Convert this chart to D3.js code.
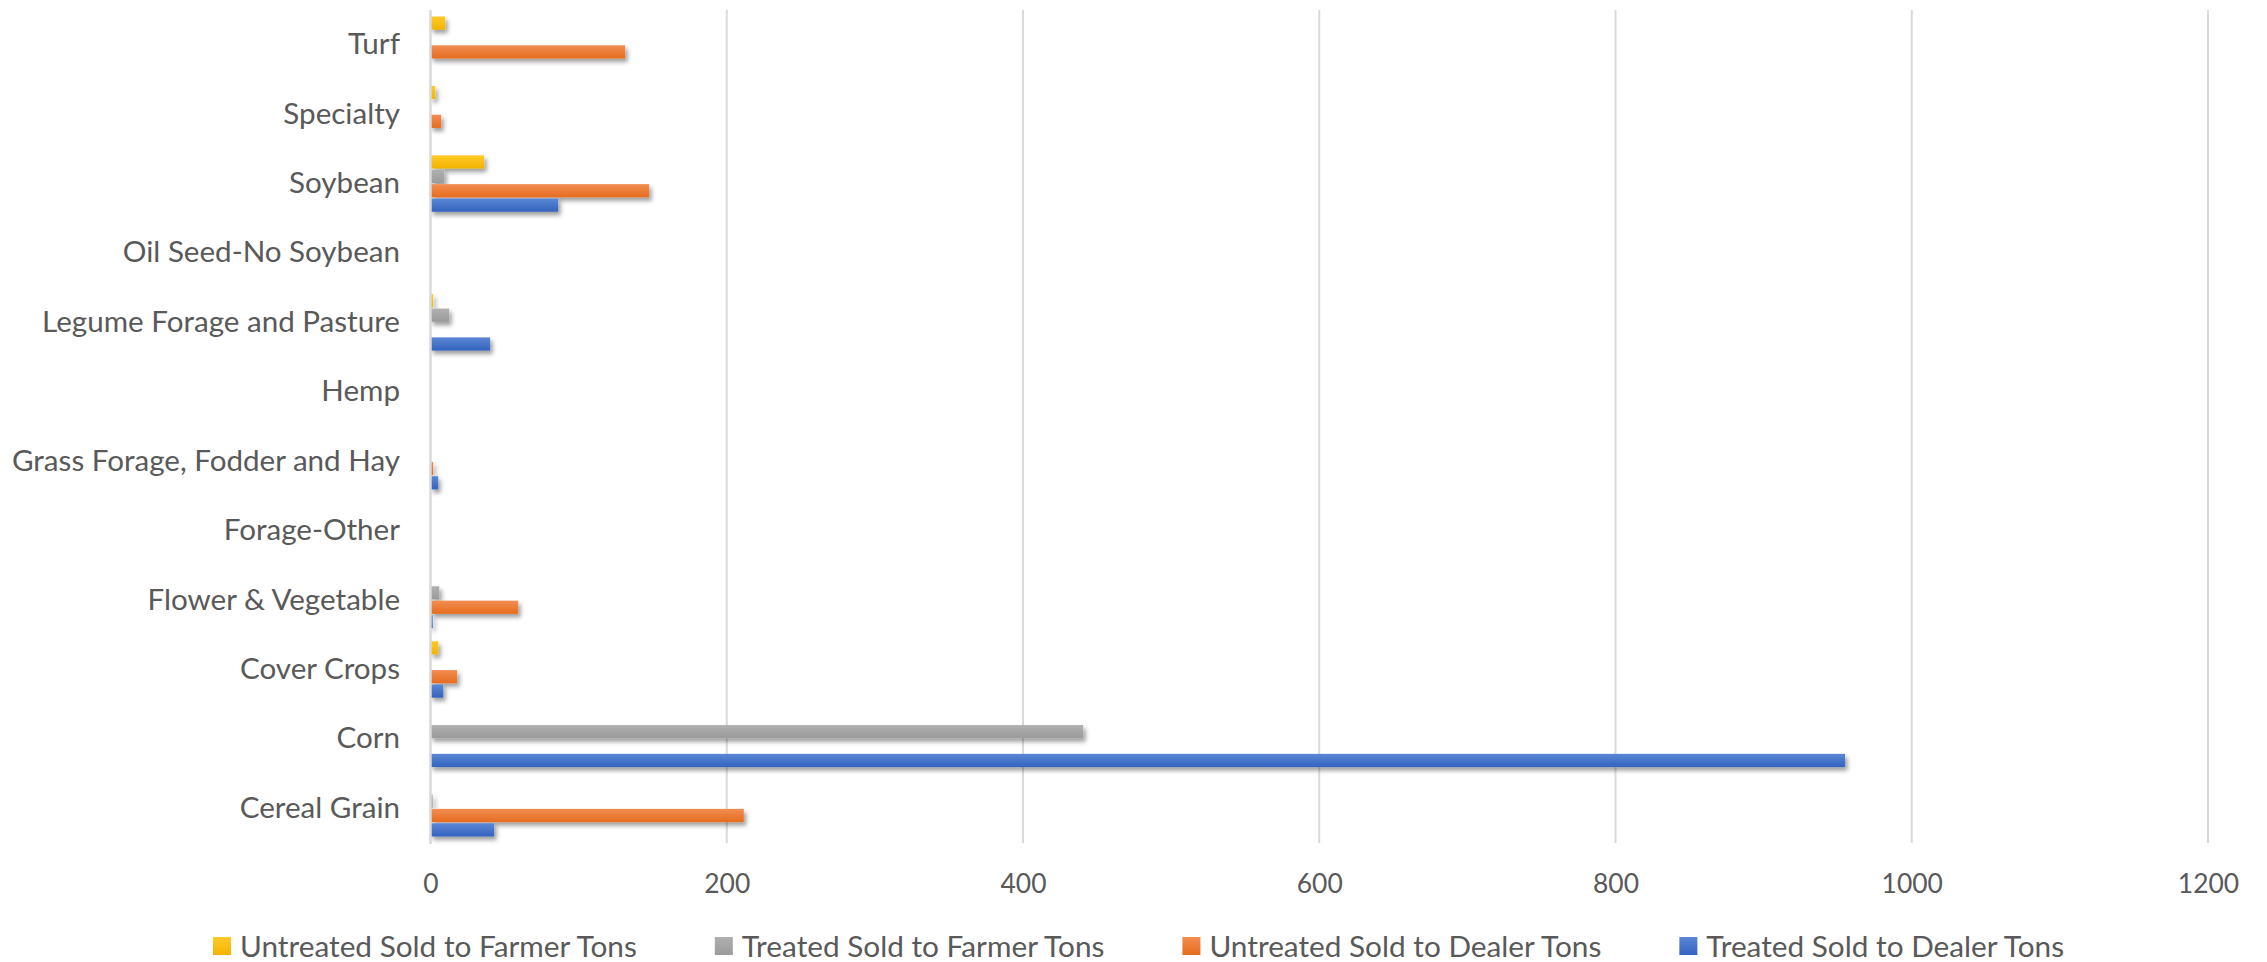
<!DOCTYPE html>
<html>
<head>
<meta charset="utf-8">
<script src="https://cdn.jsdelivr.net/npm/d3@7"></script>
<style>
  html, body { margin: 0; padding: 0; background: #ffffff; }
  svg { display: block; }
  text { font-family: Lato, "Open Sans", sans-serif; fill: #595959; }
</style>
</head>
<body>
<svg id="chart" width="2267" height="962"></svg>
<script>
// ---- Data (categories listed bottom to top, as in the chart) ----
const categories = [
  "Cereal Grain", "Corn", "Cover Crops", "Flower & Vegetable", "Forage-Other",
  "Grass Forage, Fodder and Hay", "Hemp", "Legume Forage and Pasture",
  "Oil Seed-No Soybean", "Soybean", "Specialty", "Turf"
];
const treatedDealer   = [43,   955,   8.6, 1.5, 0, 5.2, 0, 40.3, 0,  86.2, 0,   0];
const untreatedDealer = [211.5, 0,   18,  59.2, 0, 1.8, 0, 0,    0, 147.6, 7.2, 131.4];
const treatedFarmer   = [1.5,  440.6, 0,   5.9, 0, 0,   0, 12.6, 0,   9.2, 0,   0];
const untreatedFarmer = [0,    0,     5.2, 0,   0, 0,   0, 1.8,  0,  36.2, 3.2, 9.9];
const seriesNames = [
  "Untreated Sold to Farmer Tons", "Treated Sold to Farmer Tons",
  "Untreated Sold to Dealer Tons", "Treated Sold to Dealer Tons"
];
const xTicks = [0, 200, 400, 600, 800, 1000, 1200];

const seriesValues = [untreatedFarmer, treatedFarmer, untreatedDealer, treatedDealer];
const seriesColors = [
  ["#FFCA28", "#F2B400"],
  ["#B0B0B0", "#9A9A9A"],
  ["#F28D52", "#E66C1E"],
  ["#5B87D4", "#3363BE"]
];

const svg = d3.select("#chart");
const W = 2267, H = 962;
const plot = { left: 430.5, right: 2208, top: 10, bottom: 843 };

const defs = svg.append("defs");
seriesColors.forEach((c, i) => {
  const g = defs.append("linearGradient").attr("id", "grad" + i)
    .attr("x1", 0).attr("y1", 0).attr("x2", 0).attr("y2", 1);
  g.append("stop").attr("offset", "0%").attr("stop-color", c[0]);
  g.append("stop").attr("offset", "100%").attr("stop-color", c[1]);
});
const f = defs.append("filter").attr("id", "shadow")
  .attr("x", "-5%").attr("y", "-50%").attr("width", "120%").attr("height", "250%");
f.append("feDropShadow").attr("dx", 2.5).attr("dy", 3.5).attr("stdDeviation", 2.2)
  .attr("flood-color", "#000").attr("flood-opacity", 0.38);

const x = d3.scaleLinear().domain([0, 1200]).range([plot.left, plot.right]);
const y = d3.scaleBand().domain(categories.slice().reverse())
  .range([plot.top, plot.bottom]).paddingInner(0).paddingOuter(0);
const bw = y.bandwidth();
const pad = bw * 0.085;
const ys = d3.scaleBand().domain(seriesNames).range([pad, bw - pad]).padding(0);

// gridlines
const grid = svg.append("g");
grid.selectAll("line").data(xTicks.filter(t => t > 0)).join("line")
  .attr("x1", d => x(d)).attr("x2", d => x(d))
  .attr("y1", plot.top).attr("y2", plot.bottom)
  .attr("stroke", "#D9D9D9").attr("stroke-width", 2);

// bars
const barsG = svg.append("g").attr("filter", "url(#shadow)");
seriesNames.forEach((name, si) => {
  const data = categories.map((c, ci) => ({ c, v: seriesValues[si][ci] })).filter(d => d.v > 0);
  barsG.append("g").selectAll("rect").data(data).join("rect")
    .attr("x", x(0))
    .attr("y", d => y(d.c) + ys(name) + 0.6)
    .attr("width", d => x(d.v) - x(0))
    .attr("height", ys.bandwidth() - 1.2)
    .attr("fill", "url(#grad" + si + ")");
});

// category axis line
svg.append("line").attr("x1", x(0)).attr("x2", x(0))
  .attr("y1", plot.top).attr("y2", plot.bottom + 1)
  .attr("stroke", "#D9D9D9").attr("stroke-width", 2.5);

// Fit font size helpers
function fitSize(sample, target, base) {
  const t = svg.append("text").style("font-size", base + "px").text(sample);
  const w = t.node().getComputedTextLength();
  t.remove();
  return base * target / w;
}
const catSize = fitSize("Legume Forage and Pasture", 358, 30);
const tickSize = fitSize("200", 46, 30);
const legSize = fitSize("Untreated Sold to Farmer Tons", 397, 30);

// y axis labels
const yAxis = d3.axisLeft(y).tickSize(0).tickPadding(0);
const yg = svg.append("g").attr("transform", `translate(400,0)`).call(yAxis);
yg.select(".domain").remove();
yg.selectAll("text").style("font-size", catSize + "px").attr("fill", "#595959")
  .style("font-family", "Lato, sans-serif");

// x axis labels
const xAxis = d3.axisBottom(x).tickValues(xTicks).tickSize(0).tickPadding(0).tickFormat(d3.format("d"));
const xg = svg.append("g").attr("transform", `translate(0,${plot.bottom})`).call(xAxis);
xg.select(".domain").remove();
xg.selectAll("text").style("font-size", tickSize + "px").attr("fill", "#595959")
  .attr("dy", null).attr("y", 50).style("font-family", "Lato, sans-serif");

// legend
const legY = 946;
const sw = 18;
const lg = svg.append("g");
const items = lg.selectAll("g").data(seriesNames).join("g");
items.append("rect").attr("width", sw).attr("height", sw).attr("y", legY - sw / 2)
  .attr("fill", (d, i) => "url(#grad" + i + ")");
items.append("text").attr("x", sw + 9).attr("y", legY).attr("dy", "0.36em")
  .style("font-size", legSize + "px").text(d => d);
let cx = 0;
const gap = 78;
const widths = [];
items.each(function () {
  const w = d3.select(this).select("text").node().getComputedTextLength() + sw + 9;
  widths.push(w);
});
const total = d3.sum(widths) + gap * (widths.length - 1);
cx = 213;
items.attr("transform", (d, i) => {
  const tx = cx;
  cx += widths[i] + gap;
  return `translate(${tx},0)`;
});
</script>
</body>
</html>
